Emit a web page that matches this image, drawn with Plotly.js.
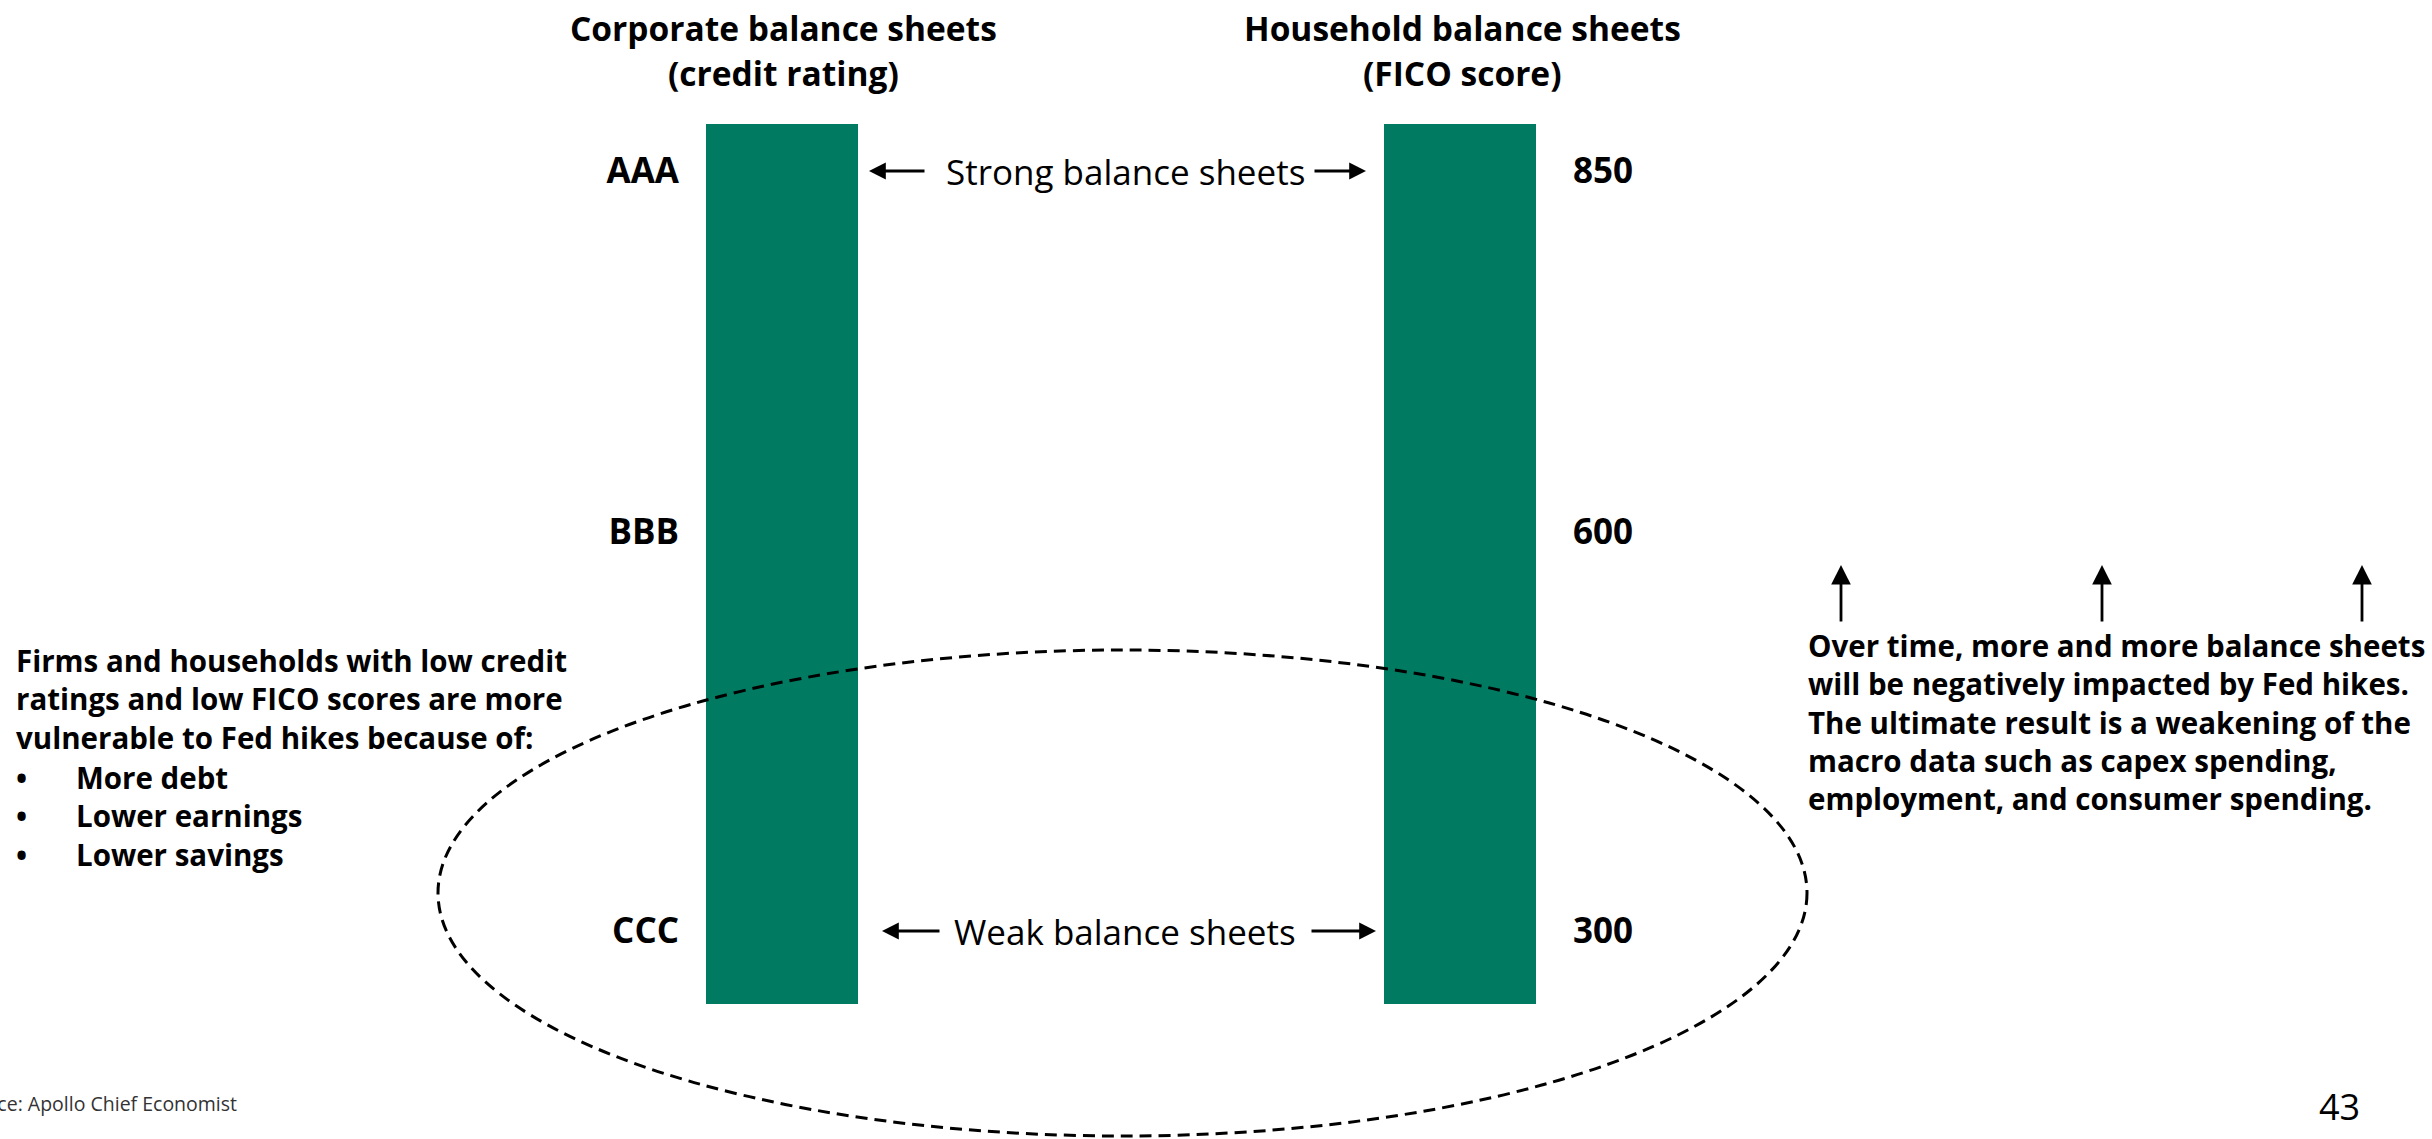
<!DOCTYPE html>
<html>
<head>
<meta charset="utf-8">
<script src="https://cdn.plot.ly/plotly-3.0.1.min.js"></script>
<style>
  html, body { margin: 0; padding: 0; background: #ffffff; }
  #chart { width: 2432px; height: 1139px; }
</style>
</head>
<body>
<div id="chart"></div>
<script>
// Two balance-sheet scales: corporate credit ratings and household FICO scores
const sides = [0, 1];                       // column index: corporate, household
const sideTitles = ['Corporate balance sheets', 'Household balance sheets'];
const sideSubtitles = ['(credit rating)', '(FICO score)'];
const ratingLabels = ['AAA', 'BBB', 'CCC'];
const ficoLabels = ['850', '600', '300'];
const rungLevel = [100, 52.5, 0];           // position of each rung on the strength scale
const scaleBottom = [-9.6, -9.6];
const scaleTop = [106.2, 106.2];

const W = 2432, H = 1139;
const FONT = '"Open Sans", "Noto Sans", sans-serif';
const GREEN = '#007B62';

// page pixel -> paper fraction helpers for text placement
const px = x => x / W;
const py = y => 1 - y / H;

const barTrace = {
  type: 'bar',
  x: sides,
  y: scaleTop.map((t, i) => t - scaleBottom[i]),
  base: scaleBottom,
  width: 0.224,
  marker: { color: GREEN, line: { width: 0 } },
  hoverinfo: 'skip',
  showlegend: false
};

function textAnn(text, x, y, size, opts) {
  return Object.assign({
    xref: 'paper', yref: 'paper', x: px(x), y: py(y),
    text: text, showarrow: false,
    xanchor: 'center', yanchor: 'middle',
    font: { family: FONT, size: size, color: '#000000' }
  }, opts || {});
}

function arrowAnn(hx, hy, dx, dy, size) {
  return {
    xref: 'paper', yref: 'paper', x: px(hx), y: py(hy),
    ax: dx, ay: dy, text: '', showarrow: true,
    arrowhead: 2, arrowsize: size || 1.2, arrowwidth: 2.8, arrowcolor: '#000000',
    standoff: 0, startstandoff: 0
  };
}

const annotations = [
  // column headings
  textAnn('<b>' + sideTitles[0] + '</b>', 783, 28, 33.5),
  textAnn('<b>' + sideSubtitles[0] + '</b>', 783, 73, 33.5),
  textAnn('<b>' + sideTitles[1] + '</b>', 1462, 28, 33.5),
  textAnn('<b>' + sideSubtitles[1] + '</b>', 1462, 73, 33.5),

  // strong / weak labels between the scales
  textAnn('Strong balance sheets', 1125, 171, 35),
  textAnn('Weak balance sheets', 1125, 931, 35),
  arrowAnn(869, 171, 57, 0),
  arrowAnn(1366, 171, -53, 0),
  arrowAnn(882, 931, 59, 0),
  arrowAnn(1376, 931, -66, 0),

  // left explanation
  textAnn('<b>Firms and households with low credit<br>ratings and low FICO scores are more<br>vulnerable to Fed hikes because of:</b>',
          14, 699, 29.5, { xanchor: 'left', align: 'left' }),
  textAnn('<b>•<br>•<br>•</b>', 14, 816, 29.5, { xanchor: 'left', align: 'left' }),
  textAnn('<b>More debt<br>Lower earnings<br>Lower savings</b>', 74, 816, 29.5, { xanchor: 'left', align: 'left' }),

  // right explanation with rising arrows
  textAnn('<b>Over time, more and more balance sheets<br>will be negatively impacted by Fed hikes.<br>The ultimate result is a weakening of the<br>macro data such as capex spending,<br>employment, and consumer spending.</b>',
          1806, 722, 29.5, { xanchor: 'left', align: 'left' }),
  arrowAnn(1841, 565, 0, 58, 1.4),
  arrowAnn(2102, 565, 0, 58, 1.4),
  arrowAnn(2362, 565, 0, 58, 1.4),

  // footer
  textAnn('Source: Apollo Chief Economist', 239, 1103, 19.5, { xanchor: 'right', font: { family: FONT, size: 19.5, color: '#333333' } }),
  textAnn('43', 2339, 1106, 36)
];

const layout = {
  width: W, height: H,
  margin: { l: 0, r: 0, t: 0, b: 0, pad: 0 },
  paper_bgcolor: '#ffffff', plot_bgcolor: '#ffffff',
  showlegend: false,
  bargap: 0,
  xaxis: { range: [-1.1534, 2.4336], visible: false, fixedrange: true },
  yaxis: {
    range: [-27.37, 122.5], anchor: 'free', position: px(706), side: 'left',
    tickvals: rungLevel, ticktext: ratingLabels,
    showgrid: false, zeroline: false, showline: false, ticks: '',
    ticklabelstandoff: 27,
    tickfont: { family: FONT, size: 35, color: '#000000', weight: 'bold' },
    fixedrange: true
  },
  yaxis2: {
    range: [-27.37, 122.5], overlaying: 'y', anchor: 'free', position: px(1538), side: 'right',
    tickvals: rungLevel, ticktext: ficoLabels,
    showgrid: false, zeroline: false, showline: false, ticks: '',
    ticklabelstandoff: 34,
    tickfont: { family: FONT, size: 35, color: '#000000', weight: 'bold' },
    fixedrange: true
  },
  shapes: [{
    // dashed ring around the weak end of both scales
    type: 'circle', xref: 'paper', yref: 'paper', layer: 'above',
    x0: px(438), x1: px(1807), y0: py(650), y1: py(1136),
    line: { color: '#000000', width: 3, dash: '12px,7px' },
    fillcolor: 'rgba(0,0,0,0)'
  }],
  annotations: annotations
};

// invisible point keeps the right-hand scale labels on
const rightAxisTrace = {
  type: 'scatter', x: [0], y: [rungLevel[0]], yaxis: 'y2',
  mode: 'markers', marker: { opacity: 0 }, hoverinfo: 'skip', showlegend: false
};

Plotly.newPlot('chart', [barTrace, rightAxisTrace], layout, { displayModeBar: false, staticPlot: true });
</script>
</body>
</html>
